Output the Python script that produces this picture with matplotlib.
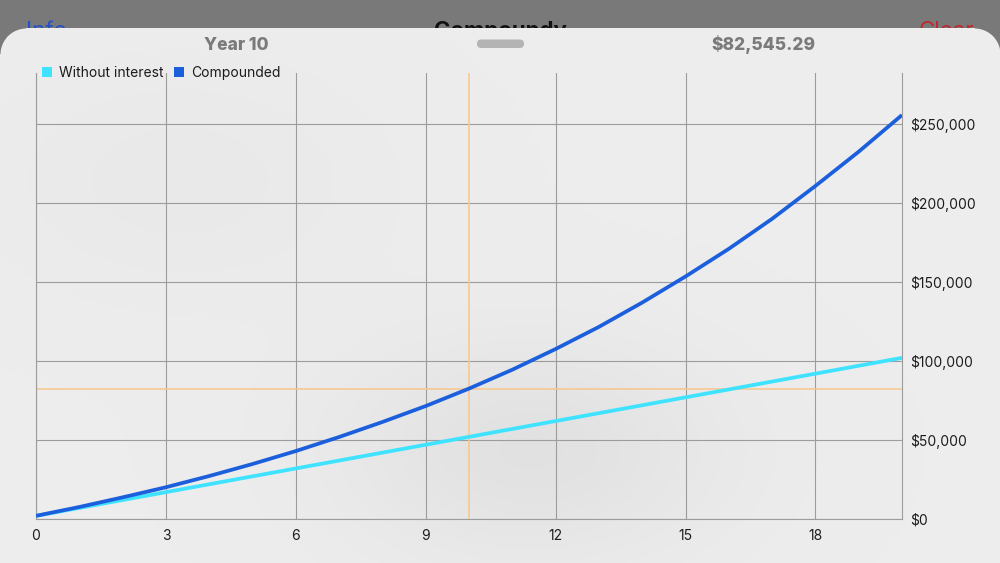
import numpy as np
import matplotlib
matplotlib.use("Agg")
import matplotlib.pyplot as plt
from matplotlib.patches import Patch, FancyBboxPatch
from matplotlib.ticker import FuncFormatter

plt.rcParams['font.family'] = ['Inter', 'DejaVu Sans']

# ---- data ----
years = list(range(0, 21))
without_interest = [2000, 7000, 12000, 17000, 22000, 27000, 32000, 37000, 42000, 47000,
                    52000, 57000, 62000, 67000, 72000, 77000, 82000, 87000, 92000, 97000, 102000]
compounded = [2000, 7600, 13700, 20100, 27200, 34800, 43000, 51900, 61400, 71500,
              82545.29, 94500, 107600, 121600, 137000, 153500, 171000, 190000, 210800, 232500, 255700]
series_names = ["Without interest", "Compounded"]
x_ticks = [0, 3, 6, 9, 12, 15, 18]
y_ticks = [0, 50000, 100000, 150000, 200000, 250000]
selected_year = 10
selected_value = 82545.29
header_left = "Year 10"
header_right = "$82,545.29"
nav_left, nav_title, nav_right = "Info", "Compoundy", "Clear"

W, H = 1000, 563
fig = plt.figure(figsize=(W / 100, H / 100), dpi=100)

# ---- background: grey band + rounded sheet with soft gradient ----
bg = fig.add_axes([0, 0, 1, 1])
bg.set_xlim(0, W)
bg.set_ylim(H, 0)
bg.axis('off')
band = np.full((H, W, 3), 0.478)
bg.imshow(band, extent=(0, W, H, 0), zorder=0, aspect='auto')
bg.text(46, 31, nav_left, color='#2450c8', fontsize=16, ha='center', va='center', zorder=1)
bg.text(500, 31, nav_title, color='#111111', fontsize=16, fontweight='bold', ha='center', va='center', zorder=1)
bg.text(946, 31, nav_right, color='#c0272d', fontsize=16, ha='center', va='center', zorder=1)

yy, xx = np.mgrid[0:H, 0:W].astype(float)
val = 0.930 - 0.045 * np.exp(-(((xx - 530) / 190) ** 2 + ((yy - 450) / 110) ** 2)) \
      - 0.015 * np.exp(-(((xx - 180) / 200) ** 2 + ((yy - 180) / 120) ** 2))
alpha = (yy >= 28).astype(float)
r = 26
for cx in (r, W - r):
    cy = 28 + r
    d = np.sqrt((xx - cx) ** 2 + (yy - cy) ** 2)
    corner = ((xx < r) if cx == r else (xx > W - r)) & (yy < cy)
    alpha[corner] = np.clip(r + 0.5 - d[corner], 0, 1)
sheet = np.dstack([val, val, val, alpha])
bg.imshow(sheet, extent=(0, W, H, 0), zorder=2, aspect='auto')

# header
bg.text(236, 45, header_left, color='#7a7a7a', fontsize=12.5, fontweight='heavy', ha='center', va='center', zorder=3)
bg.text(763, 45, header_right, color='#7a7a7a', fontsize=12.5, fontweight='heavy', ha='center', va='center', zorder=3)
bg.add_patch(FancyBboxPatch((477, 39.5), 47, 8.5, boxstyle="round,pad=0,rounding_size=4.2",
                            facecolor='#b4b4b4', edgecolor='none', zorder=3))

# ---- chart ----
left, right, top, bottom = 36, 902, 73, 519
ax = fig.add_axes([left / W, (H - bottom) / H, (right - left) / W, (bottom - top) / H])
ax.set_facecolor('none')
ax.set_xlim(0, 20)
ax.set_ylim(0, 282300)

grid_c = '#9c9c9c'
ax.set_xticks(x_ticks)
ax.set_yticks(y_ticks)
ax.grid(True, color=grid_c, linewidth=0.8, zorder=1)
ax.spines['top'].set_visible(False)
for s in ['left', 'right', 'bottom']:
    ax.spines[s].set_color(grid_c)
    ax.spines[s].set_linewidth(0.8)
ax.yaxis.tick_right()
ax.tick_params(length=0, labelsize=10, labelcolor='#1c1c1c')
ax.tick_params(axis='y', pad=6)
ax.tick_params(axis='x', pad=7.5)
ax.yaxis.set_major_formatter(FuncFormatter(lambda v, p: f"${v:,.0f}"))

ax.axvline(selected_year, color='#f8c68c', linewidth=1.1, zorder=2)
ax.axhline(selected_value, color='#f8c68c', linewidth=1.1, zorder=2)

c_cyan = '#3fe3ff'
c_blue = '#1c5fdc'
ax.plot(years, without_interest, color=c_cyan, linewidth=2.7, zorder=3, solid_capstyle='butt')
ax.plot(years, compounded, color=c_blue, linewidth=2.7, zorder=4, solid_capstyle='butt')

handles = [Patch(facecolor=c_cyan, edgecolor='none', label=series_names[0]),
           Patch(facecolor=c_blue, edgecolor='none', label=series_names[1])]
leg = fig.legend(handles=handles, loc='center left', bbox_to_anchor=(42 / W, 1 - 73 / H), ncol=2,
                 frameon=False, fontsize=10, handlelength=0.75, handleheight=0.75,
                 handletextpad=0.5, columnspacing=0.7, borderpad=0, borderaxespad=0)
for t in leg.get_texts():
    t.set_color('#1c1c1c')

fig.savefig('out.png', dpi=100)
